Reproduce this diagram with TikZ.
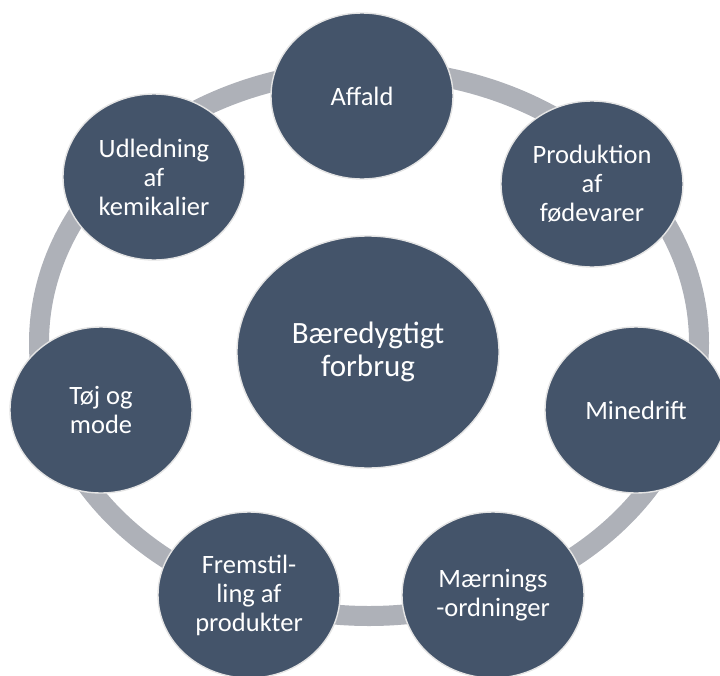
\documentclass[tikz,border=0pt]{standalone}
\usepackage{fontspec}
\setmainfont{Carlito}
\usepackage{tikz}
\usetikzlibrary{shapes.geometric}
\definecolor{skifer}{HTML}{44546A}
\definecolor{ringgraa}{HTML}{AEB1B8}
\definecolor{kant}{HTML}{E4E4E4}
\tikzset{
  emne/.style={ellipse,draw=kant,fill=skifer,line width=1.4pt,inner sep=0pt,minimum width=182pt,minimum height=166pt,align=center,text=white,font=\fontsize{26.5}{29}\selectfont},
  kerne/.style={emne,minimum width=262pt,minimum height=232pt,font=\fontsize{31}{33}\selectfont},
  ring/.style={draw=ringgraa,line width=20pt},
}

\begin{document}
\begin{tikzpicture}[x=1pt,y=-1pt]
\useasboundingbox (0,0) rectangle (720,675);
\coordinate (c0) at (368,352);
\coordinate (c1) at (362,96);
\coordinate (c2) at (592,184);
\coordinate (c3) at (636,410);
\coordinate (c4) at (493,595);
\coordinate (c5) at (249,595);
\coordinate (c6) at (101,410);
\coordinate (c7) at (154,177);
\coordinate (r0) at (369,343);
\draw[ring] (r0) ellipse [x radius=330pt, y radius=273pt];
\node[kerne] (midte) at (c0) {Bæredygtigt\\forbrug};
\node[emne] (affald) at (c1) {Affald};
\node[emne] (foede) at (c2) {Produktion\\af\\fødevarer};
\node[emne] (mine) at (c3) {Minedrift};
\node[emne] (maerk) at (c4) {Mærnings\\-ordninger};
\node[emne] (fremst) at (c5) {Fremstil-\\ling af\\produkter};
\node[emne] (toej) at (c6) {Tøj og\\mode};
\node[emne] (udled) at (c7) {Udledning\\af\\kemikalier};
\end{tikzpicture}
\end{document}
